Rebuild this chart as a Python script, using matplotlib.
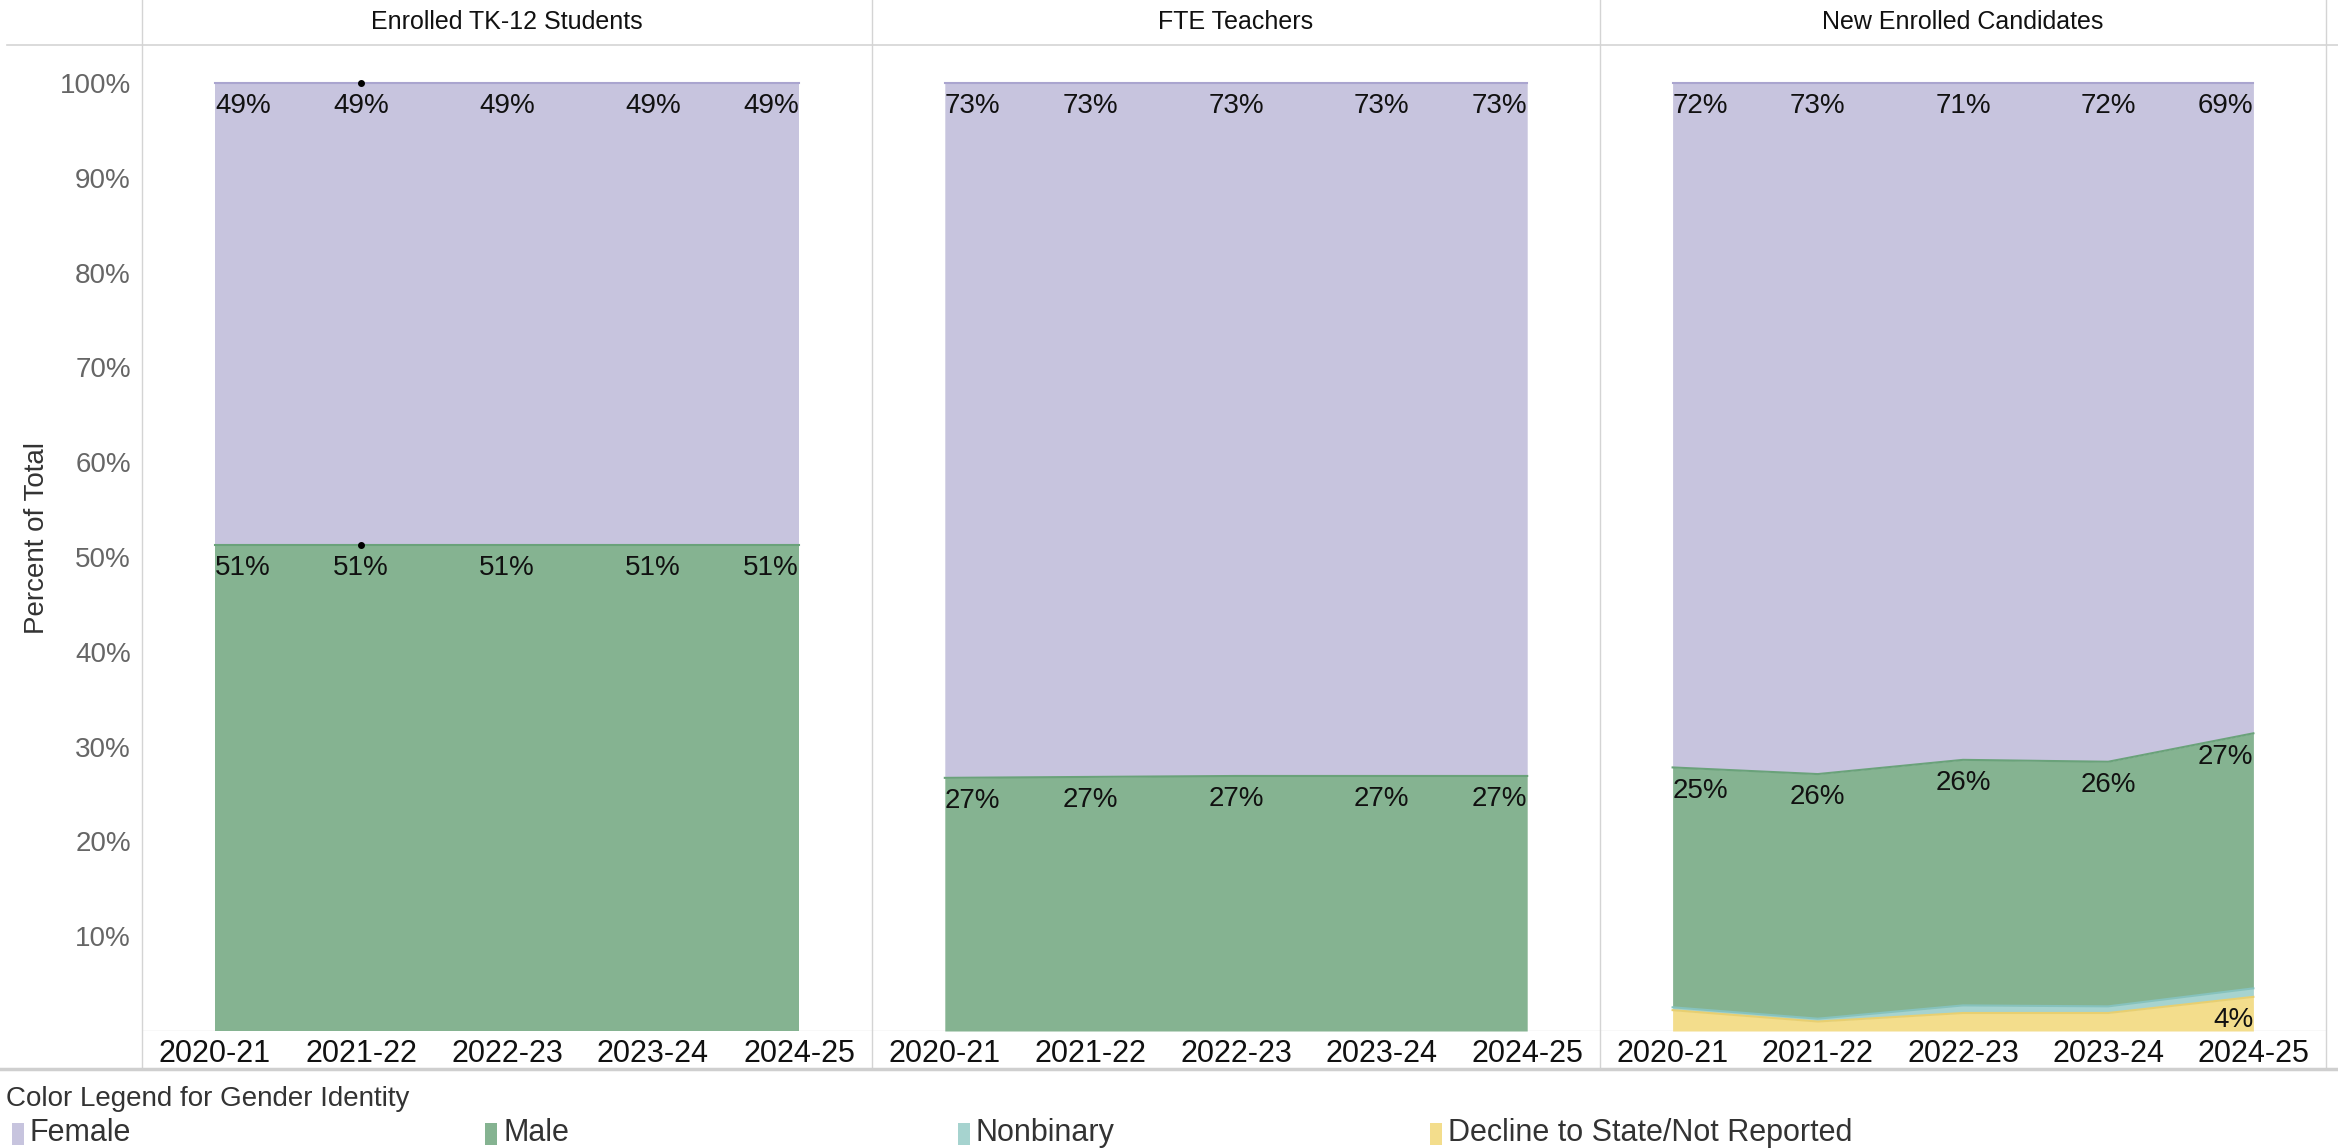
import matplotlib.pyplot as plt
from matplotlib.patches import Rectangle
from matplotlib.lines import Line2D

plt.rcParams['font.family'] = ['Liberation Sans', 'DejaVu Sans']

years = ['2020-21', '2021-22', '2022-23', '2023-24', '2024-25']
panels = ['Enrolled TK-12 Students', 'FTE Teachers', 'New Enrolled Candidates']

# percent of total, stacked from the bottom: decline, nonbinary, male, female
decline = [[0, 0, 0, 0, 0],
           [0, 0, 0, 0, 0],
           [2.2, 1.0, 1.9, 1.9, 3.6]]
nonbinary = [[0, 0, 0, 0, 0],
             [0, 0, 0, 0, 0],
             [0.3, 0.3, 0.8, 0.7, 0.9]]
male = [[51.3, 51.3, 51.3, 51.3, 51.3],
        [26.7, 26.8, 26.9, 26.9, 26.9],
        [25.3, 25.8, 25.9, 25.8, 26.9]]
female = [[48.7, 48.7, 48.7, 48.7, 48.7],
          [73.3, 73.2, 73.1, 73.1, 73.1],
          [72.2, 72.9, 71.4, 71.6, 68.6]]

legend_names = ['Female', 'Male', 'Nonbinary', 'Decline to State/Not Reported']
fill_cols = {'Female': '#c7c4de', 'Male': '#85b391',
             'Nonbinary': '#a6d3cf', 'Decline to State/Not Reported': '#f3dd8c'}
edge_cols = {'Female': '#aaa5cf', 'Male': '#6aa27a',
             'Nonbinary': '#86c2bd', 'Decline to State/Not Reported': '#e8cf70'}
stack_order = ['Decline to State/Not Reported', 'Nonbinary', 'Male', 'Female']

W, H = 2338, 1148
fig = plt.figure(figsize=(W / 100, H / 100), dpi=100)

seps = [142, 872, 1600, 2326]
top_px, zero_px = 45, 1031
ax_b = (H - zero_px) / H
ax_h = (zero_px - top_px) / H

x = list(range(len(years)))
for p in range(3):
    left = seps[p] / W
    width = (seps[p + 1] - seps[p]) / W
    ax = fig.add_axes([left, ax_b, width, ax_h])
    layers = [decline[p], nonbinary[p], male[p], female[p]]
    base = [0.0] * 5
    tops = []
    for k, vals in enumerate(layers):
        name = stack_order[k]
        top = [b + v for b, v in zip(base, vals)]
        ax.fill_between(x, base, top, color=fill_cols[name], lw=0, zorder=2)
        if max(vals) > 0:
            ax.plot(x, top, color=edge_cols[name], lw=1.5, zorder=3)
        tops.append(top)
        base = top
    ax.set_xlim(-0.5, 4.5)
    ax.set_ylim(0, 104)
    # labels
    for k in [3, 2, 0]:
        vals = layers[k]
        if max(vals) == 0:
            continue
        for i in range(5):
            if k == 0 and i != 4:
                continue
            ha = 'left' if i == 0 else ('right' if i == 4 else 'center')
            ax.text(i, tops[k][i] - 1.1, f'{round(vals[i])}%', ha=ha, va='top',
                    fontsize=20, color='#111111', zorder=5)
    if p == 0:
        ax.plot([1, 1], [100, tops[2][1]], 'o', color='black', ms=4, zorder=6)
    ax.set_xticks(x)
    ax.set_xticklabels(years, fontsize=22, color='#111111')
    ax.tick_params(axis='x', length=0, pad=6)
    for s in ax.spines.values():
        s.set_visible(False)
    ax.axhline(0, color='#dddddd', lw=1, zorder=1)
    if p == 0:
        ax.set_yticks(range(10, 101, 10))
        ax.set_yticklabels([f'{v}%' for v in range(10, 101, 10)], fontsize=20, color='#666666')
        ax.tick_params(axis='y', length=0, pad=8)
        ax.set_ylabel('Percent of Total', fontsize=20, color='#333333', labelpad=7)
    else:
        ax.set_yticks([])
    fig.text((seps[p] + seps[p + 1]) / 2 / W, 1 - 22 / H, panels[p], ha='center', va='center',
             fontsize=18, color='#111111')

# frame lines
for sx in seps:
    fig.add_artist(Line2D([sx / W, sx / W], [1 - 1069 / H, 1.0], color='#d4d4d4', lw=1))
fig.add_artist(Line2D([0.003, 1.0], [1 - top_px / H] * 2, color='#d4d4d4', lw=1.2))
fig.add_artist(Line2D([0.0, 1.0], [1 - 1069 / H] * 2, color='#cfcfcf', lw=2.5))

# legend
fig.text(6 / W, 1 - 1099 / H, 'Color Legend for Gender Identity', ha='left', va='center',
         fontsize=20, color='#333333')
leg_x = [12, 485, 958, 1430]
for k, name in enumerate(legend_names):
    fig.add_artist(Rectangle((leg_x[k] / W, 1 - 1145 / H), 12 / W, 22 / H,
                             transform=fig.transFigure, color=fill_cols[name], lw=0))
    fig.text((leg_x[k] + 18) / W, 1 - 1133 / H, name, ha='left', va='center',
             fontsize=22, color='#333333')

fig.savefig('out.png', dpi=100)
